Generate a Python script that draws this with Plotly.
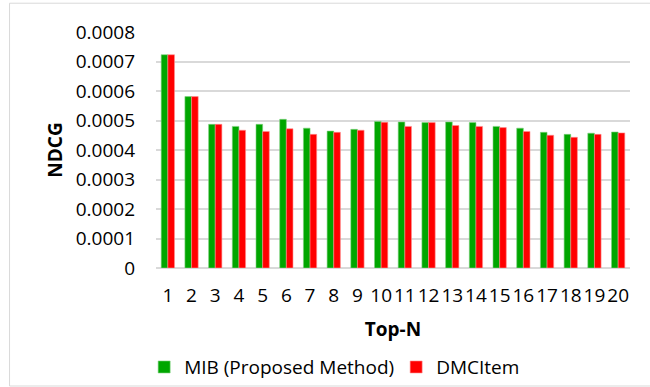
import plotly.graph_objects as go

top_n = [str(i) for i in range(1, 21)]
mib = [0.000723, 0.000581, 0.000487, 0.000480, 0.000487, 0.000504, 0.000474, 0.000464, 0.000470, 0.000497,
       0.000495, 0.000493, 0.000495, 0.000493, 0.000480, 0.000474, 0.000460, 0.000453, 0.000457, 0.000461]
dmcitem = [0.000723, 0.000581, 0.000487, 0.000467, 0.000463, 0.000472, 0.000453, 0.000460, 0.000467, 0.000494,
           0.000480, 0.000493, 0.000483, 0.000480, 0.000476, 0.000463, 0.000450, 0.000443, 0.000453, 0.000458]
y_ticks = [0, 0.0001, 0.0002, 0.0003, 0.0004, 0.0005, 0.0006, 0.0007, 0.0008]
y_tick_text = ["0", "0.0001", "0.0002", "0.0003", "0.0004", "0.0005", "0.0006", "0.0007", "0.0008"]

FONT = "Open Sans"
SIZE = 19

fig = go.Figure()
fig.add_trace(go.Bar(x=top_n, y=mib, name="MIB (Proposed Method)",
                     marker=dict(color="#00A600", line=dict(color="#7fd27f", width=0.6))))
fig.add_trace(go.Bar(x=top_n, y=dmcitem, name="DMCItem",
                     marker=dict(color="#FF0000", line=dict(color="#ff9090", width=0.6))))

fig.update_layout(
    width=650, height=387,
    margin=dict(l=156, r=20, t=32, b=119, autoexpand=False),
    paper_bgcolor="white", plot_bgcolor="white",
    barmode="group", bargap=0.44, bargroupgap=0,
    font=dict(family=FONT, size=SIZE, color="black"),
    showlegend=True,
    legend=dict(orientation="h", x=-0.025, xanchor="left", y=-0.42, yanchor="middle",
                font=dict(family=FONT, size=SIZE), itemwidth=30, traceorder="normal",
                entrywidth=207, entrywidthmode="pixels", bgcolor="rgba(0,0,0,0)"),
    xaxis=dict(
        type="category", showgrid=False, showline=False, ticks="", zeroline=False,
        automargin=False, tickangle=0,
        tickfont=dict(family=FONT, size=SIZE), ticklabelstandoff=14,
        title=dict(text="<b>Top-N</b>", font=dict(family=FONT, size=SIZE), standoff=15),
    ),
    yaxis=dict(
        range=[0, 0.0008], tickvals=y_ticks, ticktext=y_tick_text,
        showgrid=True, gridcolor="#d9d9d9", gridwidth=1.5, zeroline=True,
        zerolinecolor="#d9d9d9", zerolinewidth=1.5, showline=False, ticks="",
        automargin=False,
        tickfont=dict(family=FONT, size=SIZE), ticklabelstandoff=20,
        title=dict(text="<b>NDCG</b>", font=dict(family=FONT, size=SIZE), standoff=8),
    ),
    shapes=[dict(type="rect", xref="paper", yref="paper",
                 x0=-0.309, x1=1.06, y0=-0.5, y1=1.122,
                 line=dict(color="#d9d9d9", width=1), fillcolor="rgba(0,0,0,0)", layer="below")],
)

fig.write_html("out.html")
